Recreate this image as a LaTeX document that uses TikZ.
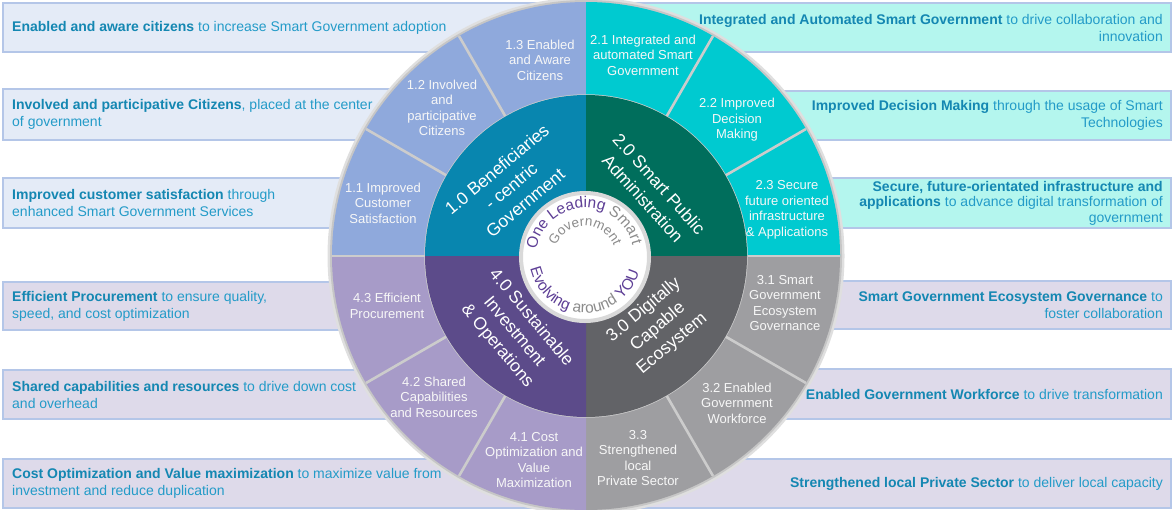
\documentclass[tikz,border=0pt]{standalone}
\usepackage{fontspec}
\setmainfont{Liberation Sans}
\usetikzlibrary{decorations.text}
\definecolor{txtreg}{RGB}{35,155,200}
\definecolor{txtbold}{RGB}{20,135,178}
\definecolor{boxblue}{RGB}{228,235,247}
\definecolor{boxlav}{RGB}{222,218,234}
\definecolor{boxcyan}{RGB}{180,246,238}
\definecolor{boxline}{RGB}{180,198,232}
\definecolor{qonelight}{RGB}{143,169,220}
\definecolor{qonedark}{RGB}{8,134,175}
\definecolor{qtwolight}{RGB}{0,202,208}
\definecolor{qtwodark}{RGB}{0,110,92}
\definecolor{qthreelight}{RGB}{158,158,161}
\definecolor{qthreedark}{RGB}{98,99,103}
\definecolor{qfourlight}{RGB}{167,155,200}
\definecolor{qfourdark}{RGB}{92,75,138}
\definecolor{sepgray}{RGB}{204,204,204}
\definecolor{cpurple}{RGB}{94,63,150}
\definecolor{cgray}{RGB}{140,140,140}
\newcommand{\hl}[1]{\textbf{\color{txtbold}#1}}
\newcommand{\wedgefill}[4]{\fill[#1] (C) -- ([shift={(#2:#4)}]C) arc[start angle=#2, end angle=#3, radius=#4] -- cycle;}
\begin{document}
\begin{tikzpicture}[x=1pt,y=1pt,
  boxtxt/.style={font=\fontsize{14}{17}\selectfont, text=txtreg, inner sep=0pt},
  leftbox/.style={boxtxt, anchor=west, align=left},
  rightbox/.style={boxtxt, anchor=east, align=right},
  bluebox/.style={fill=boxblue, draw=boxline, line width=1.2pt},
  lavbox/.style={fill=boxlav, draw=boxline, line width=1.2pt},
  cyanbox/.style={fill=boxcyan, draw=boxline, line width=1.2pt},
  seglabel/.style={font=\fontsize{13}{15.5}\selectfont, text=white!94!gray, align=center, inner sep=0pt},
  corelabel/.style={font=\fontsize{17.5}{22}\selectfont, text=white, align=center, inner sep=0pt},
  sepline/.style={draw=sepgray, line width=2.6pt}
]
\useasboundingbox (0,0) rectangle (1174,-509);
\coordinate (C) at (586,-256);
% ---- side boxes ----
\draw[bluebox] (3,-3) rectangle (587,-52);
\draw[bluebox] (3,-89) rectangle (587,-140);
\draw[bluebox] (3,-178) rectangle (587,-228);
\draw[lavbox] (3,-282) rectangle (587,-330);
\draw[lavbox] (3,-370) rectangle (587,-419);
\draw[lavbox] (3,-459) rectangle (587,-508);
\draw[cyanbox] (587,-3) rectangle (1171,-52);
\draw[cyanbox] (587,-91) rectangle (1171,-140);
\draw[cyanbox] (587,-178) rectangle (1171,-228);
\draw[lavbox] (587,-281) rectangle (1171,-329);
\draw[lavbox] (587,-369) rectangle (1171,-419);
\draw[lavbox] (587,-459) rectangle (1171,-508);
\node[leftbox] (l1) at (12,-27.5) {\hl{Enabled and aware citizens} to increase Smart Government adoption};
\node[leftbox] (l2) at (12,-114.5) {\hl{Involved and participative Citizens}, placed at the center\\of government};
\node[leftbox] (l3) at (12,-203) {\hl{Improved customer satisfaction} through\\enhanced Smart Government Services};
\node[leftbox] (l4) at (12,-306) {\hl{Efficient Procurement} to ensure quality,\\speed, and cost optimization};
\node[leftbox] (l5) at (12,-394.5) {\hl{Shared capabilities and resources} to drive down cost\\and overhead};
\node[leftbox] (l6) at (12,-483.5) {\hl{Cost Optimization and Value maximization} to maximize value from\\investment and reduce duplication};
\node[rightbox] (r1) at (1163,-27.5) {\hl{Integrated and Automated Smart Government} to drive collaboration and\\innovation};
\node[rightbox] (r2) at (1163,-115.5) {\hl{Improved Decision Making} through the usage of Smart\\Technologies};
\node[rightbox, font=\fontsize{14}{15.5}\selectfont] (r3) at (1163,-203) {\hl{Secure, future-orientated infrastructure and}\\\hl{applications} to advance digital transformation of\\government};
\node[rightbox] (r4) at (1163,-305) {\hl{Smart Government Ecosystem Governance} to\\foster collaboration};
\node[rightbox] (r5) at (1163,-394) {\hl{Enabled Government Workforce} to drive transformation};
\node[rightbox] (r6) at (1163,-483.5) {\hl{Strengthened local Private Sector} to deliver local capacity};
% ---- wheel ----
\fill[gray!25] (C) circle[radius=258.5];
\fill[gray!45] (C) circle[radius=256];
\wedgefill{qonelight}{90}{180}{254}
\wedgefill{qtwolight}{0}{90}{254}
\wedgefill{qthreelight}{270}{360}{254}
\wedgefill{qfourlight}{180}{270}{254}
\foreach \a in {0,30,60,120,150,180,210,240,300,330}
  \draw[sepline] ([shift={(\a:160)}]C) -- ([shift={(\a:254)}]C);
\draw[sepgray, line width=1.5pt] (C) circle[radius=161];
\wedgefill{qonedark}{90}{180}{161}
\wedgefill{qtwodark}{0}{90}{161}
\wedgefill{qthreedark}{270}{360}{161}
\wedgefill{qfourdark}{180}{270}{161}
\draw[fill=white, draw=gray!30, line width=4pt] (585,-257) circle[radius=64];
% ---- outer segment labels ----
\node[seglabel] (s13) at (540,-60) {1.3 Enabled\\and Aware\\Citizens};
\node[seglabel] (s12) at (442,-108) {1.2 Involved\\and\\participative\\Citizens};
\node[seglabel] (s11) at (383,-203) {1.1 Improved\\Customer\\Satisfaction};
\node[seglabel] (s21) at (643,-55) {2.1 Integrated and\\automated Smart\\Government};
\node[seglabel] (s22) at (737,-120) {2.2 Improved\\Decision\\Making};
\node[seglabel] (s23) at (787,-210) {2.3 Secure\\future oriented\\infrastructure\\\& Applications};
\node[seglabel] (s31) at (785,-303) {3.1 Smart\\Government\\Ecosystem\\Governance};
\node[seglabel] (s32) at (737,-403) {3.2 Enabled\\Government\\Workforce};
\node[seglabel] (s33) at (638,-458) {3.3\\Strengthened\\local\\Private Sector};
\node[seglabel] (s41) at (534,-460) {4.1 Cost\\Optimization and\\Value\\Maximization};
\node[seglabel] (s42) at (434,-397) {4.2 Shared\\Capabilities\\and Resources};
\node[seglabel] (s43) at (387,-306) {4.3 Efficient\\Procurement};
% ---- core labels ----
\node[corelabel, rotate=40] (c1) at (511,-186) {1.0 Beneficiaries\\- centric\\Government};
\node[corelabel, rotate=-48] (c2) at (651,-191) {2.0 Smart Public\\Administration};
\node[corelabel, rotate=40] (c3) at (658,-327) {3.0 Digitally\\Capable\\Ecosystem};
\node[corelabel, rotate=-50] (c4) at (514,-332) {4.0 Sustainable\\Investment\\\& Operations};
% ---- centre text ----
\path[decorate, decoration={text along path, text align=center,
  text={|\fontsize{15.5}{18}\selectfont\color{cpurple}|One Leading |\fontsize{15.5}{18}\selectfont\color{cgray}|Smart}}]
  ([shift={(182:49)}]585,-257) arc[start angle=182, end angle=3, radius=49];
\path[decorate, decoration={text along path, text align=center,
  text={|\fontsize{13.5}{16}\selectfont\color{cgray}|Government}}]
  ([shift={(175:31)}]585,-257) arc[start angle=175, end angle=5, radius=31];
\path[decorate, decoration={text along path, text align=center,
  text={|\fontsize{15.5}{18}\selectfont\color{cpurple}|Evolving |\fontsize{15.5}{18}\selectfont\color{cgray}|around |\fontsize{15.5}{18}\selectfont\color{cpurple}|YOU}}]
  ([shift={(176:56)}]585,-257) arc[start angle=176, end angle=361, radius=56];
\end{tikzpicture}
\end{document}
